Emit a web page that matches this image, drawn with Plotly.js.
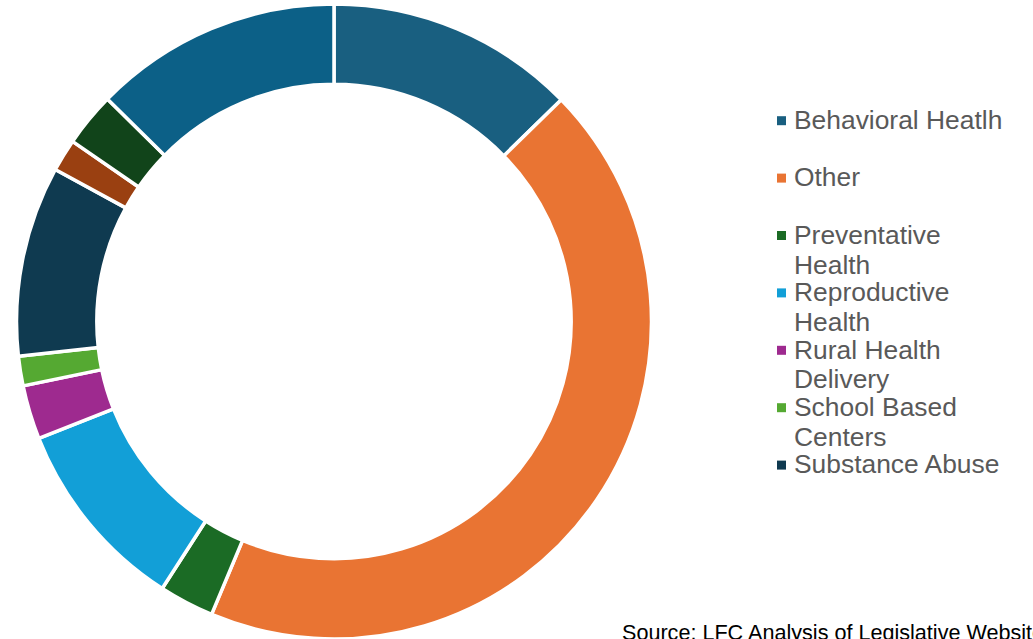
<!DOCTYPE html>
<html>
<head>
<meta charset="utf-8">
<script src="https://cdn.plot.ly/plotly-3.0.1.min.js"></script>
<style>
  html, body { margin: 0; padding: 0; background: #ffffff; }
  #chart { width: 1033px; height: 639px; }
</style>
</head>
<body>
<div id="chart"></div>
<script>
// ---- data (share of funding, %) ----
const categories = [
  "Behavioral Heatlh", "Other", "Preventative Health", "Reproductive Health",
  "Rural Health Delivery", "School Based Centers", "Substance Abuse",
  "Unlabeled 8", "Unlabeled 9", "Unlabeled 10"
];
const values = [12.7, 43.6, 2.8, 9.9, 2.75, 1.5, 9.7, 1.65, 2.75, 12.65];
const colors = [
  "#195F80", "#E97433", "#1B6B25", "#129FD7", "#9E2A8F",
  "#55A932", "#0F3A50", "#9A4011", "#11441A", "#0C6087"
];
// legend shows only the first seven entries, wrapped as in the source
const legendLines = [
  ["Behavioral Heatlh"],
  ["Other"],
  ["Preventative", "Health"],
  ["Reproductive", "Health"],
  ["Rural Health", "Delivery"],
  ["School Based", "Centers"],
  ["Substance Abuse"]
];
const sourceNote = "Source: LFC Analysis of Legislative Website";

// ---- layout helpers (pixel -> paper) ----
const W = 1033, H = 639;
const M = { l: 0, r: 0, t: 4, b: 0 };
const PH = H - M.t - M.b;
const px = x => x / W;
const py = y => (H - M.b - y) / PH;

const FONT = "Liberation Sans, Arial, sans-serif";

const shapes = [];
const annotations = [];
legendLines.forEach((lines, i) => {
  const yc = 120 + 57.4 * i;
  shapes.push({
    type: "rect", xref: "paper", yref: "paper",
    x0: px(777), x1: px(786), y0: py(yc + 0.7 + 4.5), y1: py(yc + 0.7 - 4.5),
    fillcolor: colors[i], line: { width: 0 }
  });
  lines.forEach((t, j) => {
    annotations.push({
      xref: "paper", yref: "paper", x: px(792), y: py(yc + 29.7 * j),
      xanchor: "left", yanchor: "middle", showarrow: false, text: t,
      font: { family: FONT, size: 26.4, color: "#595959" }
    });
  });
});
annotations.push({
  xref: "paper", yref: "paper", x: px(619.5), y: py(632.5),
  xanchor: "left", yanchor: "middle", showarrow: false, text: sourceNote,
  font: { family: FONT, size: 21.6, color: "#000000" }
});

const trace = {
  type: "pie",
  labels: categories,
  values: values,
  sort: false,
  direction: "clockwise",
  rotation: 0,
  hole: 0.747,
  textinfo: "none",
  hoverinfo: "label+percent",
  showlegend: false,
  marker: { colors: colors, line: { color: "#ffffff", width: 3.5 } },
  domain: { x: [16.5 / W, 651.5 / W], y: [0, 1] }
};

const layout = {
  width: W, height: H,
  margin: M,
  paper_bgcolor: "#ffffff",
  plot_bgcolor: "#ffffff",
  font: { family: FONT },
  showlegend: false,
  shapes: shapes,
  annotations: annotations
};

Plotly.newPlot("chart", [trace], layout, { displayModeBar: false, staticPlot: true });
</script>
</body>
</html>
